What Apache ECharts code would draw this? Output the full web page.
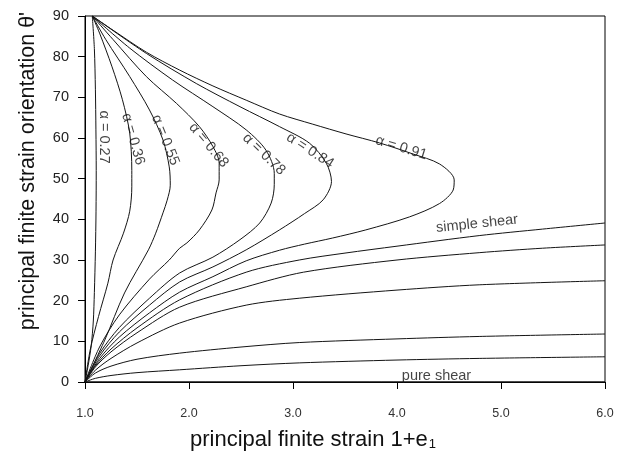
<!DOCTYPE html>
<html>
<head>
<meta charset="utf-8">
<script src="https://cdn.jsdelivr.net/npm/echarts@6/dist/echarts.min.js"></script>
<style>html,body{margin:0;padding:0;background:#fff}#c{width:624px;height:456px}</style>
</head>
<body>
<div id="c"></div>
<script>
// ---- data: [1+e1, theta'] ----
const alpha27 = [[1.07,90],[1.09,82],[1.10,72],[1.105,62],[1.108,52],[1.106,42],[1.10,32],[1.09,22],[1.08,15],[1.06,9],[1.03,4],[1.0,0]];
const alpha36 = [[1.07,90],[1.14,85.8],[1.26,77.5],[1.36,69.4],[1.43,61.2],[1.45,52],[1.45,48],[1.43,42],[1.37,36.6],[1.27,30.0],[1.22,24.3],[1.13,16.1],[1.05,7.9],[1.0,0]];
const alpha55 = [[1.07,90],[1.20,84.2],[1.43,75.1],[1.62,66.9],[1.75,59.5],[1.81,52.9],[1.82,48.4],[1.79,44.7],[1.75,41.6],[1.68,36.6],[1.61,32.5],[1.38,21.9],[1.19,10.3],[1.0,0]];
const alpha68 = [[1.07,90],[1.27,84.2],[1.59,75.1],[1.88,68.5],[2.10,62.8],[2.23,57.9],[2.29,53.8],[2.29,49.7],[2.26,46.5],[2.22,42.3],[2.10,37.4],[1.98,34.2],[1.91,32.9],[1.81,30.0],[1.62,25.3],[1.33,16.5],[1.14,8.6],[1.0,0]];
const alpha78 = [[1.07,90],[1.43,82.1],[1.84,74.3],[2.23,67.7],[2.55,62.0],[2.74,57.0],[2.82,51.3],[2.82,48.6],[2.79,44.0],[2.68,39.1],[2.49,35.0],[2.23,30.7],[1.91,26.8],[1.62,20.6],[1.33,13.4],[1.14,7.0],[1.0,0]];
const alpha84 = [[1.07,90],[1.59,80.8],[2.07,73.4],[2.49,67.7],[2.87,62.8],[3.16,58.7],[3.32,53.8],[3.37,49.3],[3.29,44.8],[3.11,41.4],[2.87,37.4],[2.55,32.5],[2.23,28.3],[1.91,24.6],[1.62,18.9],[1.33,12.3],[1.14,6.4],[1.0,0]];
const alpha91 = [[1.07,90],[1.27,86.5],[1.59,81.1],[1.91,76.7],[2.23,72.8],[2.55,69.3],[2.87,65.9],[3.19,63.4],[3.51,61.0],[3.83,58.8],[4.15,56.1],[4.41,53.6],[4.55,49.7],[4.54,47.2],[4.41,43.9],[4.12,40.6],[3.70,37.4],[3.38,35.4],[3.11,33.9],[2.87,32.4],[2.55,29.8],[2.23,25.9],[1.91,22.1],[1.62,17.0],[1.33,11.05],[1.14,5.75],[1.0,0]];
const simpleShear = [[1.0,0],[1.1,4.0],[1.25,8.1],[1.5,13.3],[1.91,20.2],[2.55,27.0],[3.06,30.0],[3.5,31.7],[4.0,33.4],[4.79,36.0],[5.4,37.6],[6.0,39.1]];
const fan2 = [[1.0,0],[1.1,3.7],[1.25,7.4],[1.5,12.1],[1.91,18.4],[2.55,23.4],[3.1,27.0],[4.0,30.0],[4.79,31.8],[5.4,32.9],[6.0,33.7]];
const fan3 = [[1.0,0],[1.1,2.9],[1.25,5.8],[1.5,9.6],[1.91,14.5],[2.55,18.9],[3.06,20.6],[4.0,22.6],[4.79,23.9],[6.0,24.9]];
const fan4 = [[1.0,0],[1.1,2.2],[1.25,3.9],[1.5,5.6],[1.91,7.1],[2.5,8.6],[3.06,9.7],[4.0,10.6],[4.79,11.2],[6.0,11.8]];
const fan5 = [[1.0,0],[1.1,0.9],[1.25,1.6],[1.5,2.3],[1.91,3.0],[2.5,4.0],[3.06,4.7],[4.0,5.4],[4.79,5.8],[6.0,6.2]];
const pureShear = [[1.0,0],[6.0,0]];

const curveList = [alpha27, alpha36, alpha55, alpha68, alpha78, alpha84, alpha91, simpleShear, fan2, fan3, fan4, fan5, pureShear];

// curve labels: text, anchor [x, theta], rotation (deg)
const labelTexts = ['α = 0.27','α = 0.36','α = 0.55','α = 0.68','α = 0.78','α = 0.84','α = 0.91','simple shear','pure shear'];
const labelPos = [[1.178,60.2],[1.462,59.7],[1.773,59.5],[2.188,58.2],[2.72,56.0],[3.164,56.9],[4.041,57.6],[4.77,38.9],[4.38,1.4]];
const labelRot = [-90,-74,-68,-50,-44,-33,-17,6,0];

const xMin = 1, xMax = 6, xStep = 1;
const yMin = 0, yMax = 90, yStep = 10;

const FONT = '"Liberation Sans", Arial, Helvetica, sans-serif';
const chart = echarts.init(document.getElementById('c'));

const series = curveList.map(d => ({
  type: 'line', data: d, showSymbol: false, symbol: 'none', smooth: 0.3,
  lineStyle: { color: '#141414', width: 1 }, silent: true, z: 3
}));
series.push({
  type: 'scatter', symbolSize: 0, silent: true, z: 5,
  data: labelTexts.map((t, i) => ({
    value: labelPos[i],
    label: { show: true, formatter: t, rotate: labelRot[i], position: 'inside',
             fontSize: 14.5, color: '#141414', fontFamily: FONT }
  }))
});

chart.setOption({
  animation: false,
  backgroundColor: '#fff',
  grid: { left: 85, right: 19, top: 16, bottom: 74, show: true, borderColor: '#000', borderWidth: 1 },
  xAxis: {
    type: 'value', min: xMin, max: xMax, interval: xStep,
    axisLine: { show: true, lineStyle: { color: '#000', width: 1 } },
    axisTick: { show: true, inside: false, length: 7, lineStyle: { color: '#000' } },
    axisLabel: { fontSize: 12.5, color: '#333', margin: 25, fontFamily: FONT, formatter: v => v.toFixed(1) },
    splitLine: { show: false }
  },
  yAxis: {
    type: 'value', min: yMin, max: yMax, interval: yStep,
    axisLine: { show: true, lineStyle: { color: '#000', width: 1 } },
    axisTick: { show: true, inside: false, length: 7, lineStyle: { color: '#000' } },
    axisLabel: { fontSize: 14.5, color: '#222', margin: 16, fontFamily: FONT },
    splitLine: { show: false }
  },
  graphic: [
    { type: 'text', x: 313, y: 440, silent: true,
      style: { text: 'principal finite strain 1+e{s|1}', fontSize: 22, fontFamily: FONT, fill: '#111',
               align: 'center', verticalAlign: 'middle',
               rich: { s: { fontSize: 13, verticalAlign: 'bottom', lineHeight: 12, padding: [0,0,0,1] } } } },
    { type: 'text', x: 28, y: 171, rotation: Math.PI / 2, silent: true,
      style: { text: "principal finite strain orientation θ'", fontSize: 21.5, fontFamily: FONT, fill: '#111',
               align: 'center', verticalAlign: 'middle' } }
  ],
  series: series
});
</script>
</body>
</html>
